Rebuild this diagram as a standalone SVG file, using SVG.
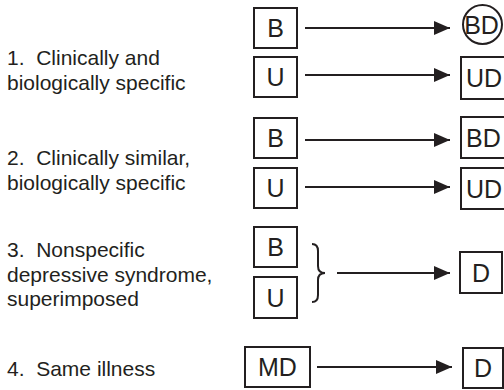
<svg xmlns="http://www.w3.org/2000/svg" width="504" height="390" viewBox="0 0 504 390">
<defs>
<style>
.lbl{font-family:"Liberation Sans",Arial,sans-serif;font-size:21px;fill:#231f20;white-space:pre}
.bx{fill:#fff;stroke:#231f20;stroke-width:2}
.t{font-family:"Liberation Sans",Arial,sans-serif;font-size:25px;fill:#231f20;text-anchor:middle}
.tl{font-family:"Liberation Sans",Arial,sans-serif;font-size:25px;fill:#231f20}
.ln{stroke:#231f20;stroke-width:2;fill:none}
</style>
<marker id="ah" markerUnits="userSpaceOnUse" markerWidth="16" markerHeight="14" refX="16" refY="7" orient="auto" overflow="visible">
<path d="M0,0 L16,7 L0,14 z" fill="#231f20"/>
</marker>
</defs>
<rect width="504" height="390" fill="#fff"/>
<g id="labels">
<text class="lbl" x="7" y="65">1.  Clinically and</text>
<text class="lbl" x="7" y="89.5">biologically specific</text>
<text class="lbl" x="7" y="165">2.  Clinically similar,</text>
<text class="lbl" x="7" y="189.5">biologically specific</text>
<text class="lbl" x="7" y="257">3.  Nonspecific</text>
<text class="lbl" x="7" y="281.5">depressive syndrome,</text>
<text class="lbl" x="7" y="306">superimposed</text>
<text class="lbl" x="7" y="376">4.  Same illness</text>
</g>
<g id="r1-B"><rect class="bx" x="254" y="8" width="43" height="40"/><text class="t" x="275.5" y="37">B</text></g>
<g id="r1-U"><rect class="bx" x="254" y="57" width="43" height="40"/><text class="t" x="275.5" y="86">U</text></g>
<g id="r1-BD"><circle class="bx" cx="482.5" cy="24.5" r="19.5"/><text class="t" x="481.5" y="33.5">BD</text></g>
<g id="r1-UD"><rect class="bx" x="461" y="57" width="50" height="42"/><text class="tl" x="466" y="87">UD</text></g>
<g id="r2-B"><rect class="bx" x="254" y="118" width="43" height="40"/><text class="t" x="275.5" y="147">B</text></g>
<g id="r2-U"><rect class="bx" x="254" y="168" width="43" height="40"/><text class="t" x="275.5" y="197">U</text></g>
<g id="r2-BD"><rect class="bx" x="461" y="117" width="50" height="41"/><text class="tl" x="466" y="146.5">BD</text></g>
<g id="r2-UD"><rect class="bx" x="461" y="168" width="50" height="41"/><text class="tl" x="466" y="197.5">UD</text></g>
<g id="r3-B"><rect class="bx" x="254" y="227" width="43" height="40"/><text class="t" x="275.5" y="256">B</text></g>
<g id="r3-U"><rect class="bx" x="254" y="277" width="43" height="41"/><text class="t" x="275.5" y="306.5">U</text></g>
<g id="r3-D"><rect class="bx" x="460" y="252" width="42" height="41"/><text class="t" x="481" y="281.5">D</text></g>
<g id="r4-MD"><rect class="bx" x="245" y="347" width="65" height="40"/><text class="t" x="277.5" y="376">MD</text></g>
<g id="r4-D"><rect class="bx" x="463" y="348" width="40" height="40"/><text class="t" x="483" y="377">D</text></g>
<g id="connectors">
<line class="ln" x1="305" y1="28" x2="450" y2="28" marker-end="url(#ah)"/>
<line class="ln" x1="305" y1="75" x2="450" y2="75" marker-end="url(#ah)"/>
<line class="ln" x1="305" y1="140" x2="450" y2="140" marker-end="url(#ah)"/>
<line class="ln" x1="305" y1="187" x2="450" y2="187" marker-end="url(#ah)"/>
<path class="ln" d="M312,244 Q318,244 318,251 L318,266 Q318,273 325,273 Q318,273 318,280 L318,295 Q318,302 312,302"/>
<line class="ln" x1="337" y1="273" x2="450" y2="273" marker-end="url(#ah)"/>
<line class="ln" x1="317" y1="367" x2="452" y2="367" marker-end="url(#ah)"/>
</g>
</svg>
